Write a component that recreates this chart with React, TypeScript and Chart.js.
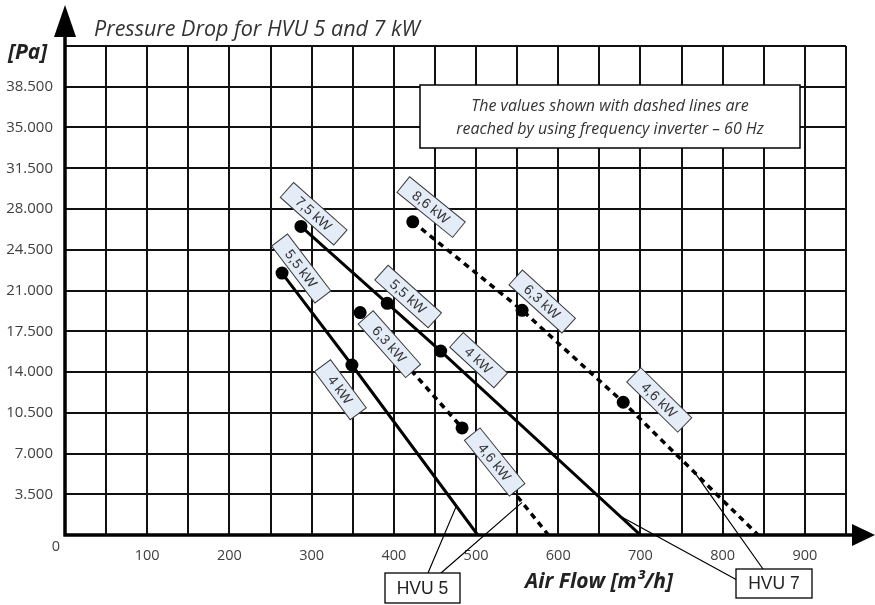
import React, { useEffect, useRef } from 'react';
import { Chart, registerables } from 'chart.js';

Chart.register(...registerables);

// ---- data ----
const xTickLabels = [100, 200, 300, 400, 500, 600, 700, 800, 900];
const yTickLabels = [3500, 7000, 10500, 14000, 17500, 21000, 24500, 28000, 31500, 35000, 38500];

const hvu5SolidX = [264, 349, 502];
const hvu5SolidY = [22500, 14600, 0];
const hvu5SolidLabels = ['5,5 kW', '4 kW'];

const hvu5DashedX = [359, 483, 588];
const hvu5DashedY = [19100, 9200, 0];
const hvu5DashedLabels = ['6,3 kW', '4,6 kW'];

const hvu7SolidX = [287, 392, 457, 700];
const hvu7SolidY = [26500, 19900, 15800, 0];
const hvu7SolidLabels = ['7,5 kW', '5,5 kW', '4 kW'];

const hvu7DashedX = [423, 556, 679, 843];
const hvu7DashedY = [26900, 19300, 11400, 0];
const hvu7DashedLabels = ['8,6 kW', '6,3 kW', '4,6 kW'];

// x positions where the callout leaders touch the curves
const hvu5Callouts = [476, 556];
const hvu7Callouts = [675, 766];

const titleText = 'Pressure Drop for HVU 5 and 7 kW';
const yUnitText = '[Pa]';
const xTitleText = 'Air Flow [m³/h]';
const noteLines = ['The values shown with dashed lines are', 'reached by using frequency inverter – 60 Hz'];

// ---- style: label offsets [along line, perpendicular] in px ----
const hvu5SolidOffsets = [[8, 18], [13, -24]];
const hvu5DashedOffsets = [[43, 1], [47, 4]];
const hvu7SolidOffsets = [[1, 18], [11, 19], [34, 19]];
const hvu7DashedOffsets = [[5, 23], [9, 20], [24, 27]];

const pts = (xs: number[], ys: number[]) => xs.map((x, i) => ({ x, y: ys[i] }));

function interpY(xs: number[], ys: number[], x: number) {
  for (let i = 0; i < xs.length - 1; i++) {
    if (x >= xs[i] && x <= xs[i + 1]) {
      const t = (x - xs[i]) / (xs[i + 1] - xs[i]);
      return ys[i] + t * (ys[i + 1] - ys[i]);
    }
  }
  return ys[ys.length - 1];
}

const seriesDefs = [
  { xs: hvu5SolidX, ys: hvu5SolidY, labels: hvu5SolidLabels, offs: hvu5SolidOffsets, dashed: false },
  { xs: hvu5DashedX, ys: hvu5DashedY, labels: hvu5DashedLabels, offs: hvu5DashedOffsets, dashed: true },
  { xs: hvu7SolidX, ys: hvu7SolidY, labels: hvu7SolidLabels, offs: hvu7SolidOffsets, dashed: false },
  { xs: hvu7DashedX, ys: hvu7DashedY, labels: hvu7DashedLabels, offs: hvu7DashedOffsets, dashed: true },
];

const SANS = '"Open Sans", "DejaVu Sans", sans-serif';
const ARIAL = '"Liberation Sans", Arial, sans-serif';

const overlayPlugin = {
  id: 'overlay',
  afterDatasetsDraw(chart: any) {
    const ctx = chart.ctx as CanvasRenderingContext2D;
    const sx = chart.scales.x;
    const sy = chart.scales.y;
    ctx.save();
    seriesDefs.forEach((s) => {
      s.labels.forEach((txt, i) => {
        const px = sx.getPixelForValue(s.xs[i]);
        const py = sy.getPixelForValue(s.ys[i]);
        const qx = sx.getPixelForValue(s.xs[i + 1]);
        const qy = sy.getPixelForValue(s.ys[i + 1]);
        const ang = Math.atan2(qy - py, qx - px);
        const ux = Math.cos(ang), uy = Math.sin(ang);
        const nx = Math.sin(ang), ny = -Math.cos(ang);
        const [al, pe] = s.offs[i];
        const cx = px + ux * al + nx * pe;
        const cy = py + uy * al + ny * pe;
        ctx.save();
        ctx.translate(cx, cy);
        ctx.rotate(ang);
        ctx.font = `14px ${ARIAL}`;
        const tw = ctx.measureText(txt).width;
        const w = Math.max(60, tw + 28);
        const h = 20;
        ctx.fillStyle = '#e4ecf7';
        ctx.fillRect(-w / 2, -h / 2, w, h);
        ctx.strokeStyle = '#3a3a3a';
        ctx.lineWidth = 1;
        ctx.strokeRect(-w / 2, -h / 2, w, h);
        ctx.fillStyle = '#333';
        ctx.textAlign = 'center';
        ctx.textBaseline = 'middle';
        ctx.fillText(txt, 0, 1);
        ctx.restore();
      });
    });
    ctx.restore();
  },
  afterDraw(chart: any) {
    const ctx = chart.ctx as CanvasRenderingContext2D;
    const { left, bottom } = chart.chartArea;
    const sx = chart.scales.x;
    const sy = chart.scales.y;
    ctx.save();

    // axes with arrows
    ctx.strokeStyle = '#000';
    ctx.fillStyle = '#000';
    ctx.lineWidth = 3.5;
    ctx.beginPath();
    ctx.moveTo(left, bottom + 1.5);
    ctx.lineTo(left, 36);
    ctx.moveTo(left - 1.5, bottom);
    ctx.lineTo(853, bottom);
    ctx.stroke();
    ctx.beginPath();
    ctx.moveTo(left, 5);
    ctx.lineTo(left - 11, 37);
    ctx.lineTo(left + 11, 37);
    ctx.closePath();
    ctx.fill();
    ctx.beginPath();
    ctx.moveTo(875, bottom);
    ctx.lineTo(852, bottom - 11);
    ctx.lineTo(852, bottom + 11);
    ctx.closePath();
    ctx.fill();

    // texts
    ctx.fillStyle = '#333';
    ctx.textBaseline = 'middle';
    ctx.textAlign = 'left';
    ctx.font = `italic 21.5px ${SANS}`;
    ctx.fillText(titleText, 94, 30);
    ctx.fillStyle = '#222';
    ctx.font = `italic bold 21px ${SANS}`;
    ctx.fillText(yUnitText, 8, 53);
    ctx.textAlign = 'center';
    ctx.font = `italic bold 21px ${SANS}`;
    ctx.fillText(xTitleText, 599, 582);
    ctx.fillStyle = '#404040';
    ctx.font = `14.5px ${SANS}`;
    ctx.fillText('0', 56, 547);

    // note box
    ctx.fillStyle = '#fff';
    ctx.fillRect(420, 85, 380, 63);
    ctx.strokeStyle = '#000';
    ctx.lineWidth = 1.5;
    ctx.strokeRect(420, 85, 380, 63);
    ctx.fillStyle = '#333';
    ctx.font = `italic 16px ${SANS}`;
    ctx.fillText(noteLines[0], 610, 106);
    ctx.fillText(noteLines[1], 610, 129);

    // callouts
    const anchor = (xs: number[], ys: number[], x: number) => [sx.getPixelForValue(x), sy.getPixelForValue(interpY(xs, ys, x))];
    ctx.lineWidth = 1.2;
    ctx.strokeStyle = '#000';
    const a1 = anchor(hvu5SolidX, hvu5SolidY, hvu5Callouts[0]);
    const a2 = anchor(hvu5DashedX, hvu5DashedY, hvu5Callouts[1]);
    const a3 = anchor(hvu7SolidX, hvu7SolidY, hvu7Callouts[0]);
    const a4 = anchor(hvu7DashedX, hvu7DashedY, hvu7Callouts[1]);
    ctx.beginPath();
    ctx.moveTo(428, 573); ctx.lineTo(a1[0], a1[1]);
    ctx.moveTo(441, 573); ctx.lineTo(a2[0], a2[1]);
    ctx.moveTo(737, 580); ctx.lineTo(a3[0], a3[1]);
    ctx.moveTo(763, 569); ctx.lineTo(a4[0], a4[1]);
    ctx.stroke();

    const box = (x: number, y: number, w: number, h: number, t: string) => {
      ctx.fillStyle = '#fff';
      ctx.fillRect(x, y, w, h);
      ctx.lineWidth = 1.3;
      ctx.strokeStyle = '#000';
      ctx.strokeRect(x, y, w, h);
      ctx.fillStyle = '#222';
      ctx.font = `17.5px ${ARIAL}`;
      ctx.textAlign = 'center';
      ctx.textBaseline = 'middle';
      ctx.fillText(t, x + w / 2, y + h / 2 + 1);
    };
    box(385, 573, 75, 30, 'HVU 5');
    box(736, 569, 76, 29, 'HVU 7');

    ctx.restore();
  },
};

export default function App() {
  const ref = useRef<HTMLCanvasElement | null>(null);

  useEffect(() => {
    if (!ref.current) return;
    const mk = (xs: number[], ys: number[], dashed: boolean) => ({
      data: pts(xs, ys),
      showLine: true,
      borderColor: '#000',
      backgroundColor: '#000',
      borderWidth: dashed ? 3.5 : 3,
      borderDash: dashed ? [6, 5] : [],
      pointRadius: (c: any) => (c.dataIndex === xs.length - 1 ? 0 : 6.5),
      pointHoverRadius: 0,
      pointBorderWidth: 0,
      tension: 0,
    });
    const chart = new Chart(ref.current, {
      type: 'scatter',
      data: {
        datasets: seriesDefs.map((s) => mk(s.xs, s.ys, s.dashed)) as any,
      },
      options: {
        responsive: false,
        animation: false,
        devicePixelRatio: 1,
        layout: { padding: { top: 46, right: 29, left: 0, bottom: 0 } },
        plugins: { legend: { display: false }, tooltip: { enabled: false } },
        scales: {
          x: {
            type: 'linear',
            min: 0,
            max: 950,
            afterFit: (s: any) => { s.height = 70; },
            border: { display: false },
            grid: { color: '#111', lineWidth: 2, drawTicks: false },
            ticks: {
              stepSize: 50,
              autoSkip: false,
              maxRotation: 0,
              padding: 12,
              color: '#404040',
              font: { family: SANS, size: 14.5 },
              callback: (v: any) => (xTickLabels.includes(Number(v)) ? String(v) : ''),
            },
          },
          y: {
            type: 'linear',
            min: 0,
            max: 42000,
            afterFit: (s: any) => { s.width = 65; },
            border: { display: false },
            grid: { color: '#111', lineWidth: 2, drawTicks: false },
            ticks: {
              stepSize: 3500,
              autoSkip: false,
              padding: 12,
              color: '#404040',
              font: { family: SANS, size: 15 },
              callback: (v: any) => (yTickLabels.includes(Number(v)) ? (Number(v) / 1000).toFixed(3) : ''),
            },
          },
        },
      },
      plugins: [overlayPlugin],
    });
    return () => chart.destroy();
  }, []);

  return (
    <div style={{ position: 'fixed', left: 0, top: 0, width: 875, height: 605, background: '#fff' }}>
      <canvas ref={ref} width={875} height={605} style={{ display: 'block' }} />
    </div>
  );
}
